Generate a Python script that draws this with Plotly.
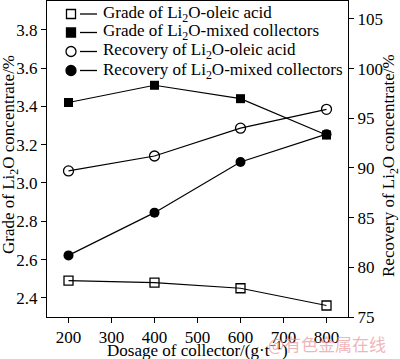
import plotly.graph_objects as go

dosage = [200, 400, 600, 800]
grade_oleic = [2.49, 2.48, 2.45, 2.36]
grade_mixed = [3.42, 3.51, 3.44, 3.25]
rec_oleic = [89.7, 91.2, 94.0, 95.9]
rec_mixed = [81.2, 85.5, 90.6, 93.4]

legend_names = ["Grade of Li<sub>2</sub>O-oleic acid", "Grade of Li<sub>2</sub>O-mixed collectors",
                "Recovery of Li<sub>2</sub>O-oleic acid", "Recovery of Li<sub>2</sub>O-mixed collectors"]

W, H = 400, 359
ML, MR, MT, MB = 47, 52, 1, 42
PW, PH = W - ML - MR, H - MT - MB

def px(x):
    return (x - ML) / PW

def py(y):
    return 1 - (y - MT) / PH

FAM = "Liberation Serif, Times New Roman, serif"
font = dict(family=FAM, size=17, color="black")
line = dict(color="black", width=1.2)

fig = go.Figure()
fig.add_trace(go.Scatter(x=dosage, y=grade_oleic, mode="lines+markers", name=legend_names[0],
                         line=line, marker=dict(symbol="square-open", size=9, color="black", line=dict(width=1.3))))
fig.add_trace(go.Scatter(x=dosage, y=grade_mixed, mode="lines+markers", name=legend_names[1],
                         line=line, marker=dict(symbol="square", size=9, color="black")))
fig.add_trace(go.Scatter(x=dosage, y=rec_oleic, mode="lines+markers", name=legend_names[2],
                         line=line, marker=dict(symbol="circle-open", size=10, color="black", line=dict(width=1.3)), yaxis="y2"))
fig.add_trace(go.Scatter(x=dosage, y=rec_mixed, mode="lines+markers", name=legend_names[3],
                         line=line, marker=dict(symbol="circle", size=10, color="black"), yaxis="y2"))

axis_common = dict(showline=True, linecolor="black", linewidth=1, ticks="outside", ticklen=5,
                   tickcolor="black", showgrid=False, zeroline=False, tickfont=font)

fig.update_layout(
    width=W, height=H,
    margin=dict(l=ML, r=MR, t=MT, b=MB, autoexpand=False),
    paper_bgcolor="white", plot_bgcolor="white",
    font=font,
    showlegend=False,
    xaxis=dict(axis_common, range=[150, 850], tickvals=[200, 300, 400, 500, 600, 700, 800], mirror=True),
    yaxis=dict(axis_common, range=[2.3, 3.95], tickvals=[2.4, 2.6, 2.8, 3.0, 3.2, 3.4, 3.6, 3.8],
               tickformat=".1f"),
    yaxis2=dict(axis_common, overlaying="y", side="right", range=[75, 106.8],
                tickvals=[75, 80, 85, 90, 95, 100, 105]),
)

# custom legend (marker, then line, then text)
rows_y = [14, 32.5, 51.5, 70.5]
kinds = [("square", "white"), ("square", "black"), ("circle", "white"), ("circle", "black")]
for (shape, fill), yy, name in zip(kinds, rows_y, legend_names):
    r = 4.5 if shape == "square" else 5
    fig.add_shape(type="rect" if shape == "square" else "circle", xref="paper", yref="paper",
                  x0=px(71 - r), x1=px(71 + r), y0=py(yy + r), y1=py(yy - r),
                  line=dict(color="black", width=1.3), fillcolor=fill)
    fig.add_shape(type="line", xref="paper", yref="paper", x0=px(80), x1=px(97), y0=py(yy), y1=py(yy),
                  line=dict(color="black", width=1.3))
    fig.add_annotation(x=px(101), y=py(yy), xref="paper", yref="paper", xanchor="left", yanchor="middle",
                       text=name, showarrow=False, font=font)

# axis titles
fig.add_annotation(x=px(197), y=py(349), xref="paper", yref="paper", xanchor="center", yanchor="middle",
                   text="Dosage of collector/(g·t<sup>−1</sup>)", showarrow=False, font=font)
fig.add_annotation(x=px(10), y=py(155), xref="paper", yref="paper", xanchor="center", yanchor="middle",
                   text="Grade of Li<sub>2</sub>O concentrate/%", textangle=-90, showarrow=False, font=font)
fig.add_annotation(x=px(390), y=py(166), xref="paper", yref="paper", xanchor="center", yanchor="middle",
                   text="Recovery of Li<sub>2</sub>O concentrate/%", textangle=-90, showarrow=False, font=font)

# watermark
fig.add_annotation(x=px(327), y=py(343), xref="paper", yref="paper", xanchor="center", yanchor="middle",
                   text="@有色金属在线", showarrow=False,
                   font=dict(family="Noto Sans CJK SC", size=17, color="rgba(232,150,155,0.7)"))

fig.write_html("out.html", config={"displayModeBar": False, "staticPlot": True},
               post_script="document.body.style.margin='0';document.body.style.overflow='hidden';")
